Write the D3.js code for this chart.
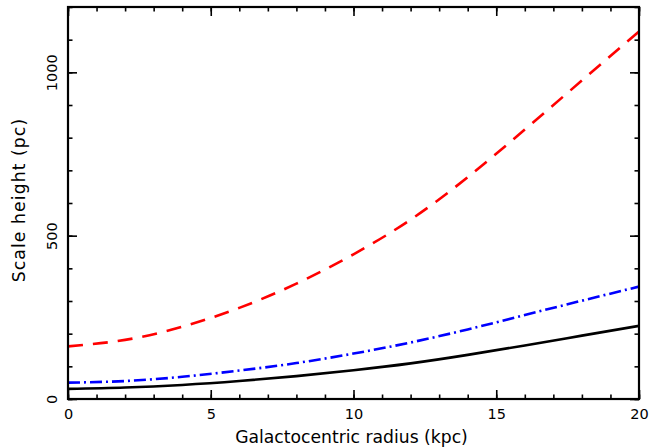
<!DOCTYPE html>
<html>
<head>
<meta charset="utf-8">
<script src="https://cdn.jsdelivr.net/npm/d3@7"></script>
<style>
  html, body { margin: 0; padding: 0; background: #fff; }
  svg { display: block; }
  text { font-family: "DejaVu Sans", sans-serif; fill: #000; }
</style>
</head>
<body>
<svg id="chart" width="649" height="447"></svg>
<script>
// Galactocentric radius (kpc) at which the scale heights are tabulated
const radius = [0, 2, 4, 6, 8, 10, 12, 14, 16, 18, 20];

// Scale heights (pc) for the three components
const heightDashed   = [161, 181, 221, 279, 353, 443, 549, 679, 825, 975, 1125];
const heightDashDot  = [50, 55, 68, 87, 110, 139, 173, 213, 257, 301, 344];
const heightSolid    = [31, 35, 43, 55, 70, 88, 109, 135, 164, 194, 224];

// Axis ticks
const xMajorTicks = [0, 5, 10, 15, 20];
const xMinorTicks = d3.range(0, 21, 1);
const yMajorTicks = [0, 500, 1000];
const yMinorTicks = d3.range(0, 1201, 100);

const svg = d3.select("#chart");
const plotLeft = 68, plotRight = 639, plotTop = 7, plotBottom = 399;

const x = d3.scaleLinear().domain([0, 20]).range([plotLeft, plotRight]);
const y = d3.scaleLinear().domain([0, 1200]).range([plotBottom, plotTop]);

// clip curves to the plotting frame
svg.append("defs").append("clipPath").attr("id", "plotClip")
  .append("rect").attr("x", plotLeft).attr("y", plotTop)
  .attr("width", plotRight - plotLeft).attr("height", plotBottom - plotTop);

const series = [
  { values: heightDashed,  color: "#ff0000", dash: "15,10" },
  { values: heightDashDot, color: "#0000ff", dash: "12,4,2,4" },
  { values: heightSolid,   color: "#000000", dash: null }
];

const line = d3.line()
  .x((d, i) => x(radius[i]))
  .y(d => y(d))
  .curve(d3.curveNatural);

const curves = svg.append("g").attr("clip-path", "url(#plotClip)");
series.forEach(s => {
  curves.append("path")
    .attr("d", line(s.values))
    .attr("fill", "none")
    .attr("stroke", s.color)
    .attr("stroke-width", 2.6)
    .attr("stroke-dasharray", s.dash);
});

// ticks on all four sides, pointing inward
function tickAxis(axisFn, scale, values, size, transform, labelled) {
  const a = axisFn(scale).tickValues(values).tickSize(-size).tickSizeOuter(0)
    .tickFormat(labelled ? d3.format("d") : "");
  const g = svg.append("g").attr("transform", transform).call(a);
  g.select(".domain").remove();
  g.selectAll(".tick line").attr("stroke", "#000").attr("stroke-width", 1.6);
  return g;
}

tickAxis(d3.axisBottom, x, xMinorTicks, 4.5, `translate(0,${plotBottom})`, false);
const xLab = tickAxis(d3.axisBottom, x, xMajorTicks, 9, `translate(0,${plotBottom})`, true);
xLab.selectAll("text").attr("font-size", 14.5).attr("font-family", "DejaVu Sans, sans-serif")
  .attr("y", 19.5).attr("dy", 0);

tickAxis(d3.axisTop, x, xMinorTicks, 4.5, `translate(0,${plotTop})`, false);
tickAxis(d3.axisTop, x, xMajorTicks, 9, `translate(0,${plotTop})`, false);

tickAxis(d3.axisLeft, y, yMinorTicks, 4.5, `translate(${plotLeft},0)`, false);
const yLab = tickAxis(d3.axisLeft, y, yMajorTicks, 9, `translate(${plotLeft},0)`, true);
yLab.selectAll("text")
  .attr("font-size", 14.5).attr("font-family", "DejaVu Sans, sans-serif")
  .attr("x", 0).attr("dy", "0.36em")
  .attr("text-anchor", "middle")
  .attr("transform", "translate(-16,0) rotate(-90)");

tickAxis(d3.axisRight, y, yMinorTicks, 4.5, `translate(${plotRight},0)`, false);
tickAxis(d3.axisRight, y, yMajorTicks, 9, `translate(${plotRight},0)`, false);

// frame
svg.append("rect")
  .attr("x", plotLeft).attr("y", plotTop)
  .attr("width", plotRight - plotLeft).attr("height", plotBottom - plotTop)
  .attr("fill", "none").attr("stroke", "#000").attr("stroke-width", 2.2);

// axis titles
svg.append("text")
  .attr("x", (plotLeft + plotRight) / 2 - 2).attr("y", 443)
  .attr("text-anchor", "middle").attr("font-size", 17.2)
  .text("Galactocentric radius (kpc)");

svg.append("text")
  .attr("transform", `translate(25,${(plotTop + plotBottom) / 2 - 3}) rotate(-90)`)
  .attr("text-anchor", "middle").attr("font-size", 17.2)
  .attr("letter-spacing", 1.1)
  .text("Scale height (pc)");
</script>
</body>
</html>
